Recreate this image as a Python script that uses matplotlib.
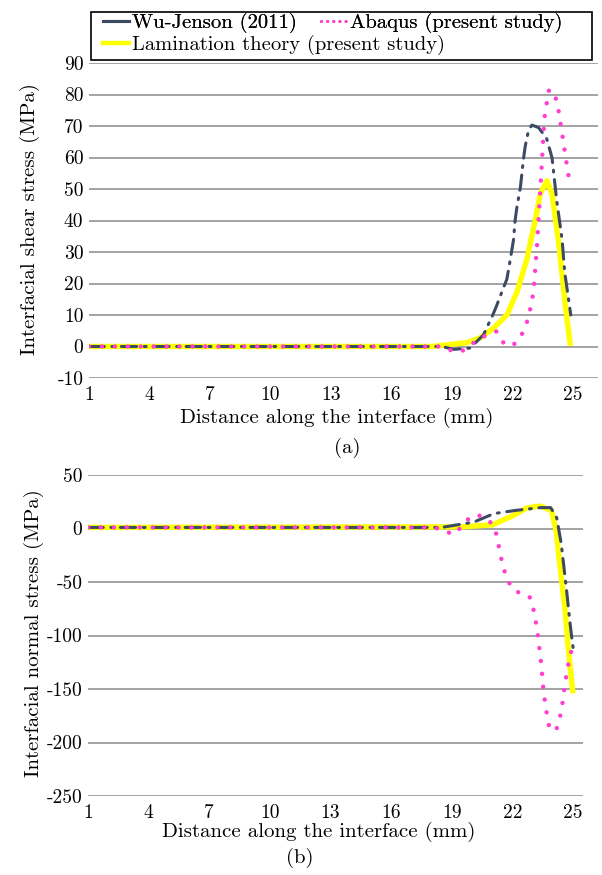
import matplotlib
matplotlib.use("Agg")
import matplotlib.pyplot as plt
from matplotlib.patches import Rectangle
from matplotlib.lines import Line2D

plt.rcParams["font.family"] = ["cmr10", "DejaVu Serif"]
plt.rcParams["mathtext.fontset"] = "cm"
plt.rcParams["axes.unicode_minus"] = False

# (a) interfacial shear stress, MPa
shear_wu_x = [1, 18.5, 19.1, 19.9, 20.57, 20.8, 21.03, 21.23, 21.48, 21.73, 21.9, 22.06, 22.14,
              22.23, 22.4, 22.55, 22.64, 22.8, 22.97, 23.3, 23.7, 23.97, 24.2, 24.47, 24.6, 24.9]
shear_wu_y = [0, 0, -0.9, -0.5, 3.7, 6.9, 10, 13.1, 17.3, 21.4, 27.7, 33.9, 40.2,
              44.3, 50.5, 59.4, 63.6, 68.5, 70.3, 69.5, 66.1, 59.9, 46.4, 33.9, 23.5, 10]
shear_abq_x = [1, 18.5, 19.07, 19.5, 20.4, 21.2, 21.56, 21.98, 22.4, 22.8, 23.05, 23.22, 23.35,
               23.47, 23.59, 23.8, 24.05, 24.25, 24.43, 24.6, 24.8]
shear_abq_y = [0, 0, -1.5, -1.5, 2.7, 4.8, 1.2, 0.1, 2.7, 9, 17.3, 31.8, 45.4,
               58.9, 72.4, 81.2, 81.2, 76.6, 69.3, 62, 53.7]
shear_lam_x = [1, 18, 19.74, 20.4, 21.06, 21.73, 22.23, 22.72, 23.14, 23.39, 23.72, 23.97,
               24.3, 24.63, 24.88]
shear_lam_y = [0, 0, 1.2, 2.7, 5.8, 10, 17.3, 27.7, 40.2, 48.5, 52.6, 48.5,
               32.9, 13.1, 0.2]

# (b) interfacial normal stress, MPa
normal_wu_x = [1, 18.5, 19.3, 20.1, 21.1, 22.2, 23.4, 23.9, 24.2, 24.43, 24.5, 24.7, 24.85,
               24.93, 25.04]
normal_wu_y = [1, 1, 3.5, 6, 14, 17, 19.5, 19.5, 10, -15, -27, -60, -87,
               -100, -116]
normal_abq_x = [1, 18.2, 18.6, 19.2, 19.45, 19.8, 20.26, 20.8, 21.1, 21.2, 21.37, 21.53, 21.78,
                22.1, 22.86, 23.1, 23.27, 23.44, 23.55, 23.69, 23.85, 24.18, 24.43, 24.6,
                24.76, 24.93]
normal_abq_y = [1, 1, -3, -5, 1.5, 8.5, 13, 8.5, 1.5, -4.7, -20, -35, -49,
                -58, -64, -79, -100.6, -128, -153, -171, -188, -188, -171, -146,
                -128, -114]
normal_lam_x = [1, 19.5, 21.03, 22.03, 22.7, 23.36, 23.94, 24.18, 24.35, 24.6, 24.76, 25.0]
normal_lam_y = [1, 1.5, 3.5, 12, 19, 21, 17, -3, -34, -73, -110, -154]

x_ticks = [1, 4, 7, 10, 13, 16, 19, 22, 25]
shear_ticks = [90, 80, 70, 60, 50, 40, 30, 20, 10, 0, -10]
normal_ticks = [50, 0, -50, -100, -150, -200, -250]

wu_color = "#3d4a63"
abq_color = "#ff3fcf"
lam_color = "#ffff00"
grid_color = "#8a8a8a"
W, H = 602, 875
TICK_FS = 14
LABEL_FS = 15


def draw(ax, wu, abq, lam):
    ax.plot(*lam, color=lam_color, lw=3.9, solid_capstyle="butt", zorder=3)
    ax.plot(*wu, color=wu_color, lw=2.2, linestyle=(0, (5, 2.5, 0.6, 2.5)),
            dash_capstyle="round", zorder=4)
    ax.plot(*abq, color=abq_color, lw=3.2, linestyle=(0, (0.01, 2.9)),
            dash_capstyle="round", zorder=5)


def style(ax, yticks, xlim):
    ax.set_xlim(*xlim)
    ax.set_ylim(min(yticks), max(yticks))
    ax.set_xticks(x_ticks)
    ax.set_xticklabels([str(t) for t in x_ticks])
    ax.set_yticks(yticks)
    ax.set_yticklabels([str(t) for t in yticks])
    for s in ax.spines.values():
        s.set_visible(False)
    ax.tick_params(length=0, labelsize=TICK_FS, pad=4)
    ax.tick_params(axis="x", pad=6)
    ax.yaxis.grid(True, color=grid_color, lw=1.1)
    ax.set_axisbelow(True)


fig = plt.figure(figsize=(W / 100, H / 100), dpi=100)

ax1 = fig.add_axes([89 / W, 1 - 378 / H, 509 / W, 315 / H])
draw(ax1, (shear_wu_x, shear_wu_y), (shear_abq_x, shear_abq_y), (shear_lam_x, shear_lam_y))
style(ax1, shear_ticks, (1, 26.25))
ax1.set_ylabel("Interfacial shear stress (MPa)", fontsize=LABEL_FS)
ax1.yaxis.set_label_coords(-0.096, 0.505)
ax1.set_xlabel("Distance along the interface (mm)", fontsize=LABEL_FS)
ax1.xaxis.set_label_coords(0.487, -0.094)
fig.text(347 / W, 1 - 448 / H, "(a)", ha="center", va="center", fontsize=LABEL_FS)

ax2 = fig.add_axes([88 / W, 1 - 796 / H, 495 / W, 321 / H])
draw(ax2, (normal_wu_x, normal_wu_y), (normal_abq_x, normal_abq_y), (normal_lam_x, normal_lam_y))
style(ax2, normal_ticks, (1, 25.5))
ax2.set_ylabel("Interfacial normal stress (MPa)", fontsize=LABEL_FS)
ax2.yaxis.set_label_coords(-0.088, 0.506)
ax2.set_xlabel("Distance along the interface (mm)", fontsize=LABEL_FS)
ax2.xaxis.set_label_coords(0.467, -0.08)
fig.text(300 / W, 1 - 858 / H, "(b)", ha="center", va="center", fontsize=LABEL_FS)

# legend box like the excel one: row 1 two entries, row 2 one entry
fig.patches.append(Rectangle((91 / W, 1 - 60 / H), 501 / W, 48 / H, transform=fig.transFigure,
                             fill=False, edgecolor="black", lw=1.2))
wu_h = Line2D([], [], color=wu_color, lw=2.2)
abq_h = Line2D([], [], color=abq_color, lw=2.2, linestyle=(0, (0.01, 2.0)), dash_capstyle="round")
lam_h = Line2D([], [], color=lam_color, lw=3.2)
leg_kw = dict(frameon=False, loc="center left", fontsize=14.8, handlelength=1.25,
              handletextpad=0.15, columnspacing=1.2, borderpad=0, borderaxespad=0)
leg1 = fig.legend([wu_h, abq_h], ["Wu-Jenson (2011)", "Abaqus (present study)"], ncol=2,
                  bbox_to_anchor=(103 / W, 1 - 23 / H), **leg_kw)
fig.add_artist(leg1)
fig.legend([lam_h], ["Lamination theory (present study)"],
           bbox_to_anchor=(103 / W, 1 - 45 / H), **leg_kw)

fig.savefig("out.png", dpi=100)
